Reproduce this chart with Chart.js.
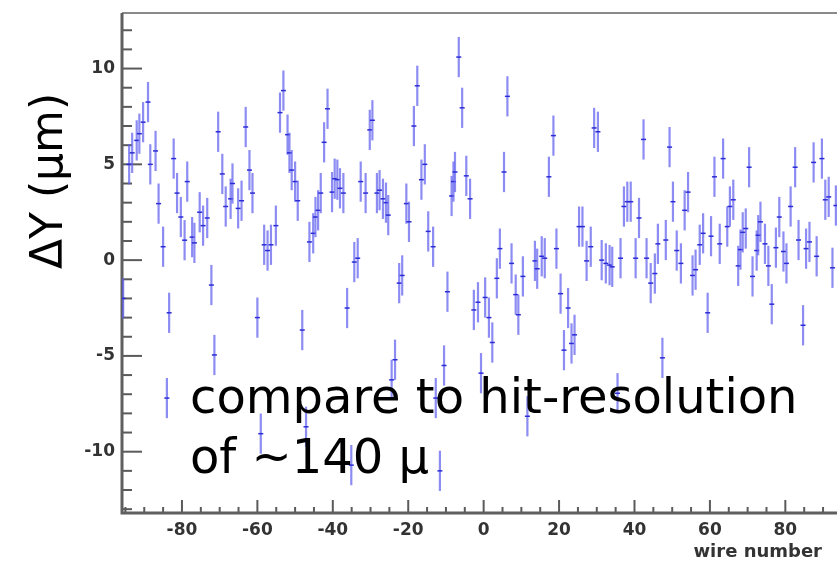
<!DOCTYPE html>
<html>
<head>
<meta charset="utf-8">
<script src="https://cdn.jsdelivr.net/npm/chart.js@4.4.1/dist/chart.umd.min.js"></script>
<style>
    html, body { margin: 0; padding: 0; background: #ffffff; }
    #residualChart { display: block; }
</style>
</head>
<body>
<canvas id="residualChart" width="837" height="563"></canvas>
<script>
// Wire number of each measured wire
const wireNumbers = [
    -95.6, -94.0, -93.2, -92.0, -91.3, -90.3, -89.0, -88.4, -87.0, -86.2,
    -85.0, -84.0, -83.4, -82.2, -81.3, -80.3, -79.3, -78.6, -77.3, -76.7,
    -75.3, -74.4, -73.3, -72.2, -71.4, -70.4, -69.3, -68.4, -67.1, -66.6,
    -65.1, -64.2, -63.1, -62.1, -61.3, -60.0, -59.1, -58.2, -57.3, -56.4,
    -55.1, -54.0, -53.1, -52.0, -51.5, -50.9, -50.0, -49.3, -48.1, -47.1,
    -46.2, -45.2, -44.6, -43.9, -43.2, -42.3, -41.4, -40.2, -39.5, -38.8,
    -38.1, -37.2, -36.2, -35.1, -34.3, -33.4, -32.6, -31.3, -30.2, -29.5,
    -28.3, -27.6, -26.7, -25.9, -25.3, -24.4, -23.5, -22.4, -21.6, -20.5,
    -19.8, -18.5, -17.6, -16.5, -15.6, -14.7, -13.4, -12.7, -11.6, -10.5,
    -9.6, -8.5, -8.0, -7.6, -6.6, -5.7, -4.6, -3.6, -2.6, -1.5,
    -0.7, 0.4, 1.4, 2.3, 3.5, 4.3, 5.4, 6.3, 7.4, 8.5,
    9.2, 10.4, 11.6, 13.6, 14.2, 15.4, 16.2, 17.3, 18.5, 19.3,
    20.4, 21.3, 22.4, 23.3, 24.1, 25.3, 26.2, 27.3, 28.4, 29.3,
    30.3, 31.3, 32.4, 33.4, 34.1, 35.5, 36.3, 37.2, 38.1, 39.0,
    40.3, 41.2, 42.4, 43.2, 44.3, 45.4, 46.2, 47.4, 48.3, 49.3,
    50.2, 51.2, 52.3, 53.3, 54.2, 55.4, 56.2, 57.3, 58.2, 59.4,
    60.3, 61.2, 62.6, 63.5, 64.6, 65.3, 66.2, 67.5, 68.1, 68.7,
    69.5, 70.4, 71.3, 72.4, 72.8, 73.4, 74.6, 75.5, 76.4, 77.5,
    78.4, 79.5, 80.3, 81.4, 82.6, 83.5, 84.7, 85.5, 86.4, 87.5,
    88.3, 89.7, 90.6, 91.5, 92.5, 93.4
];

// Mean residual per wire, in micrometres
const deltaY = [
    -2.0, 5.0, 5.6, 6.25, 6.6, 7.2, 8.25, 5.0, 5.7, 2.95,
    0.7, -7.2, -2.75, 5.3, 3.5, 2.25, 1.04, 4.1, 1.2, 0.9,
    2.5, 1.8, 2.2, -1.3, -4.95, 6.7, 4.5, 2.8, 3.2, 4.0,
    2.7, 3.1, 6.95, 4.7, 3.5, -3.0, -9.06, 0.8, 0.5, 0.8,
    1.8, 7.7, 8.85, 6.55, 5.6, 4.7, 4.1, 3.1, -3.65, -8.7,
    0.95, 1.4, 2.25, 2.6, 3.5, 6.15, 7.9, 3.55, 4.25, 4.2,
    3.75, 3.5, -2.5, -10.7, -0.1, 0.1, 4.1, 3.5, 6.8, 7.3,
    3.5, 3.65, 3.2, 3.0, 2.35, -6.25, -5.2, -1.2, -0.8, 2.95,
    2.0, 7.0, 9.1, 4.2, 5.0, 1.5, 0.7, -7.2, -11.0, -5.5,
    -1.65, 3.35, 4.1, 4.6, 10.6, 7.95, 4.4, 3.2, -2.6, -2.2,
    -5.9, -1.95, -3.0, -4.3, -0.95, 0.6, 4.6, 8.55, -0.17, -1.8,
    -2.85, -0.85, -8.15, -0.04, -0.45, 0.2, 0.1, 4.35, 6.5, 0.6,
    -1.75, -4.7, -2.5, -4.35, -3.9, 1.75, 1.75, -0.04, 0.7, 6.9,
    6.7, 0.0, -0.17, -0.26, -0.35, -6.95, 0.1, 2.8, 3.05, 3.05,
    0.1, 2.2, 6.3, 0.1, -1.2, -0.7, 0.85, -5.1, 1.05, 5.9,
    3.05, 0.5, -0.17, 2.6, 3.55, -0.8, -0.5, 0.8, 1.4, -2.75,
    1.25, 4.35, 0.85, 5.3, 1.75, 2.8, 3.15, -0.3, 0.55, 1.45,
    1.65, 4.85, -0.85, 0.5, 1.3, 2.0, 0.85, -0.3, -2.3, 0.65,
    2.25, 0.45, -0.17, 2.8, 4.85, 1.05, -3.4, 0.6, 0.95, 5.1,
    0.2, 5.3, 3.15, 3.3, -0.4, 2.85
];

// Uncertainty on each residual (half length of the error bar)
const deltaYError = 1.05;

// Labelled tick values
const xTickLabels = [-80, -60, -40, -20, 0, 20, 40, 60, 80];
const yTickLabels = [-10, -5, 0, 5, 10];

const xRange = [-95.9, 93.7];
const yRange = [-13.2, 12.9];

document.addEventListener('DOMContentLoaded', function() {
    const ctx = document.getElementById('residualChart').getContext('2d');
    const points = wireNumbers.map((w, i) => ({ x: w, y: deltaY[i] }));

    const tickFont = { family: '"DejaVu Sans"', size: 17, weight: 'bold' };

    // Axis frame with inward major/minor tick marks
    const framePlugin = {
        id: 'frame',
        beforeDatasetsDraw(chart) {
            const { ctx, chartArea, scales } = chart;
            const xs = scales.x, ys = scales.y;
            ctx.save();
            ctx.lineCap = 'butt';

            // top border
            ctx.strokeStyle = '#8a8a8a';
            ctx.lineWidth = 2;
            ctx.beginPath();
            ctx.moveTo(chartArea.left, chartArea.top);
            ctx.lineTo(chartArea.right, chartArea.top);
            ctx.stroke();

            ctx.strokeStyle = '#5a5a5a';
            ctx.lineWidth = 2;
            for (let v = -13; v <= 12; v++) {
                const py = ys.getPixelForValue(v);
                const len = v % 5 === 0 ? 20 : 10;
                ctx.beginPath();
                ctx.moveTo(chartArea.left, py);
                ctx.lineTo(chartArea.left + len, py);
                ctx.stroke();
            }
            for (let v = -95; v <= 90; v += 5) {
                const px = xs.getPixelForValue(v);
                const len = v % 20 === 0 ? 13 : 6;
                ctx.beginPath();
                ctx.moveTo(px, chartArea.bottom);
                ctx.lineTo(px, chartArea.bottom - len);
                ctx.stroke();
            }

            ctx.lineWidth = 3;
            ctx.strokeStyle = '#5f5f5f';
            ctx.beginPath();
            ctx.moveTo(chartArea.left, chartArea.top);
            ctx.lineTo(chartArea.left, chartArea.bottom);
            ctx.lineTo(chartArea.right, chartArea.bottom);
            ctx.stroke();
            ctx.restore();
        }
    };

    // Vertical error bar with a small centre mark for every point
    const errorBarPlugin = {
        id: 'errorBars',
        afterDatasetsDraw(chart) {
            const { ctx, chartArea, scales } = chart;
            const xs = scales.x, ys = scales.y;
            ctx.save();
            ctx.beginPath();
            ctx.rect(chartArea.left, chartArea.top, chartArea.right - chartArea.left, chartArea.bottom - chartArea.top);
            ctx.clip();
            chart.data.datasets[0].data.forEach(p => {
                const px = xs.getPixelForValue(p.x);
                const yTop = ys.getPixelForValue(p.y + deltaYError);
                const yBot = ys.getPixelForValue(p.y - deltaYError);
                const yMid = ys.getPixelForValue(p.y);
                ctx.strokeStyle = 'rgba(95, 95, 238, 0.72)';
                ctx.lineWidth = 2.2;
                ctx.beginPath();
                ctx.moveTo(px, yTop);
                ctx.lineTo(px, yBot);
                ctx.stroke();
                ctx.strokeStyle = '#2c2cd6';
                ctx.lineWidth = 1.5;
                ctx.beginPath();
                ctx.moveTo(px - 2.5, yMid);
                ctx.lineTo(px + 2.5, yMid);
                ctx.stroke();
            });
            ctx.restore();
        }
    };

    // Axis titles and the note on the plot
    const textPlugin = {
        id: 'texts',
        afterDraw(chart) {
            const ctx = chart.ctx;
            ctx.save();
            ctx.fillStyle = '#000000';

            ctx.save();
            ctx.translate(62, 181);
            ctx.rotate(-Math.PI / 2);
            ctx.font = '44px "DejaVu Sans"';
            ctx.textAlign = 'center';
            ctx.textBaseline = 'alphabetic';
            ctx.fillText('ΔY (μm)', 0, 0);
            ctx.restore();

            ctx.fillStyle = '#333333';
            ctx.font = 'bold 18px "DejaVu Sans"';
            ctx.textAlign = 'right';
            ctx.textBaseline = 'middle';
            ctx.fillText('wire number', 822, 552);

            ctx.fillStyle = '#000000';
            ctx.font = '48px "DejaVu Sans"';
            ctx.textAlign = 'left';
            ctx.textBaseline = 'alphabetic';
            ctx.fillText('compare to hit-resolution', 190, 413);
            ctx.fillText('of ~140 μ', 190, 473);
            ctx.restore();
        }
    };

    new Chart(ctx, {
        type: 'scatter',
        data: {
            datasets: [{
                label: 'ΔY',
                data: points,
                pointRadius: 0,
                pointHoverRadius: 0,
                showLine: false
            }]
        },
        options: {
            responsive: false,
            animation: false,
            layout: { padding: { top: 13, left: 0, right: 0, bottom: 0 } },
            plugins: {
                legend: { display: false },
                tooltip: { enabled: false }
            },
            scales: {
                x: {
                    type: 'linear',
                    min: xRange[0],
                    max: xRange[1],
                    grid: { display: false, drawTicks: false },
                    border: { display: false },
                    afterBuildTicks: s => { s.ticks = xTickLabels.map(v => ({ value: v })); },
                    afterFit: s => { s.height = 50; s.paddingLeft = 0; s.paddingRight = 0; },
                    ticks: {
                        font: tickFont,
                        color: '#333333',
                        padding: 7,
                        maxRotation: 0,
                        autoSkip: false
                    }
                },
                y: {
                    type: 'linear',
                    min: yRange[0],
                    max: yRange[1],
                    grid: { display: false, drawTicks: false },
                    border: { display: false },
                    afterBuildTicks: s => { s.ticks = yTickLabels.map(v => ({ value: v })); },
                    afterFit: s => { s.width = 122; s.paddingTop = 0; s.paddingBottom = 0; },
                    ticks: {
                        font: tickFont,
                        color: '#333333',
                        padding: 7,
                        autoSkip: false
                    }
                }
            }
        },
        plugins: [framePlugin, errorBarPlugin, textPlugin]
    });
});
</script>
</body>
</html>
